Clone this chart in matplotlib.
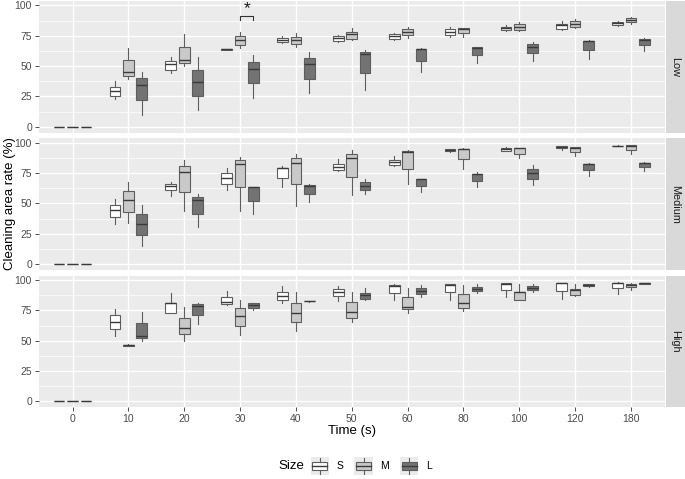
import matplotlib
matplotlib.use("Agg")
import matplotlib.pyplot as plt
from matplotlib.patches import Rectangle
from matplotlib.lines import Line2D
from matplotlib.legend_handler import HandlerBase

plt.rcParams['font.family'] = ['Liberation Sans', 'DejaVu Sans']

times = ['0', '10', '20', '30', '40', '50', '60', '80', '100', '120', '180']
sizes = ['S', 'M', 'L']
levels = ['Low', 'Medium', 'High']

# five-number summaries per time: [whisker low, q1, median, q3, whisker high]
low_S = [[0, 0, 0, 0, 0], [22.6, 25, 29.2, 33, 38], [44, 47.1, 51.5, 54.3, 57.9],
         [63.2, 63.5, 63.7, 63.9, 64.2], [68.9, 70, 71.9, 73.3, 74.4], [70, 71, 73, 74.4, 76],
         [71.9, 72.7, 74.7, 76.3, 77.1], [73.6, 75.8, 78, 80.2, 82.1], [79.3, 79.9, 81.5, 82.4, 83.7],
         [79.9, 80.4, 83.5, 84.8, 87.3], [83.2, 83.7, 85.7, 86.5, 87.3]]
low_M = [[0, 0, 0, 0, 0], [39.7, 41.9, 45.2, 55, 65], [50.1, 52.6, 55.1, 65.8, 76.6],
         [64.7, 67.5, 71.3, 74.9, 78.2], [65.6, 68.3, 71.3, 74.1, 77.4], [71.6, 72.2, 76.6, 78.2, 81.5],
         [73, 75.5, 77.7, 80.4, 82.1], [74.1, 77.4, 80.4, 81.3, 81.5], [79.3, 79.9, 82.1, 84.3, 86.5],
         [81, 82.1, 84.8, 86.8, 88.4], [84.8, 86, 88.2, 89.5, 90.6]]
low_L = [[0, 0, 0, 0, 0], [9.4, 22, 34.7, 40.2, 45.5], [14, 25, 36.6, 46.8, 57.3],
         [23.7, 35.8, 47.7, 53.4, 59.2], [27.5, 39.7, 52.1, 56.7, 61.7], [30.3, 44.4, 60, 61.4, 63.4],
         [45.5, 54.5, 63.9, 64.2, 64.5], [52.9, 59, 65.3, 65.6, 66.1], [54.5, 60.6, 65.8, 68.3, 70],
         [56.2, 63.1, 70.5, 70.8, 71.6], [62.8, 67.5, 71.9, 72.5, 73]]

med_S = [[0, 0, 0, 0, 0], [32.7, 38.7, 44.2, 48.9, 53.3], [56.3, 60.7, 64.6, 66.2, 67.9],
         [60.7, 65.7, 70.9, 75.3, 79.4], [63.7, 70.6, 78.8, 79.4, 81], [76.6, 77.2, 80.2, 82.7, 86.5],
         [80.8, 81.3, 84.1, 85.7, 88.7], [92.6, 93.1, 94, 94.8, 95], [92.9, 93.4, 94.5, 95.3, 96.2],
         [93.7, 95.3, 96.2, 97, 97], [97.3, 97.4, 97.5, 97.6, 97.7]]
med_M = [[0, 0, 0, 0, 0], [34.1, 43.1, 52.5, 60.2, 67.9], [43.4, 59.6, 75.8, 80.8, 85.7],
         [43.4, 63.2, 82.1, 85.7, 88.2], [48.1, 65.7, 83.2, 87.1, 90.4], [56.9, 71.7, 87.1, 90.4, 94],
         [65.7, 78.3, 92, 92.9, 93.7], [78.3, 86.3, 94.5, 94.8, 95.3], [87.1, 90.9, 95.3, 95.9, 95.9],
         [89.3, 92.6, 95.9, 96.4, 96.4], [90.9, 94.2, 97, 97.8, 97.8]]
med_L = [[0, 0, 0, 0, 0], [14.8, 23.6, 32.7, 40.9, 48.9], [30.2, 40.9, 52.5, 54.9, 57.4],
         [40.9, 51.6, 63.2, 63.5, 63.7], [51.4, 57.7, 64.6, 65.1, 65.7], [57.7, 60.7, 64.6, 67.3, 70],
         [59.1, 64.3, 69.8, 70, 70.3], [63.5, 68.1, 73.9, 74.5, 75.5], [65.1, 70.3, 75.3, 78.6, 81.6],
         [72.8, 77.2, 82.1, 82.4, 83], [76.6, 79.9, 83, 83.5, 83.8]]

high_S = [[0, 0, 0, 0, 0], [53.7, 59.5, 65.8, 70.8, 76], [72.5, 72.7, 80.7, 81.3, 89.3],
          [79.1, 80.2, 81.5, 85.7, 90.9], [80.7, 83.2, 86.8, 90.4, 94.8], [82.4, 86.5, 90.1, 92.8, 95.3],
          [83.7, 89.5, 95.3, 95.9, 96.4], [83.2, 89.8, 96.1, 96.4, 97], [86, 91.7, 97, 97.2, 97.5],
          [84.6, 90.9, 97.2, 97.5, 97.8], [88.4, 93.1, 97.5, 97.8, 98.1]]
high_M = [[0, 0, 0, 0, 0], [45.5, 46, 46.2, 46.5, 47], [50.1, 55.4, 60.6, 69.1, 78],
          [54.8, 62.3, 70.2, 76.6, 83.2], [57.6, 65, 72.7, 81.3, 89.8], [65, 68.9, 73.3, 82.1, 90.4],
          [73, 75.8, 78, 85.7, 93.1], [74.4, 77.1, 80.7, 88.2, 95.9], [83.5, 83.5, 89.8, 90.4, 97],
          [87.1, 87.6, 92, 92.6, 96.7], [91.7, 93.9, 96.1, 97, 97.2]]
high_L = [[0, 0, 0, 0, 0], [50.1, 52.3, 53.5, 64.5, 73.8], [63.6, 70.8, 78.2, 79.9, 80.7],
          [75.5, 77.1, 79.6, 80.7, 81.3], [82.2, 82.3, 82.4, 82.5, 82.6], [83.7, 84.3, 87.6, 89.3, 93.4],
          [86, 88.2, 90.6, 93.1, 95.9], [89, 90.6, 92.6, 94.5, 96.4], [90.4, 91.7, 93.7, 95.3, 96.7],
          [94.5, 94.8, 95.9, 96.4, 97], [96.4, 96.7, 97.2, 97.5, 97.8]]

data = {'Low': [low_S, low_M, low_L],
        'Medium': [med_S, med_M, med_L],
        'High': [high_S, high_M, high_L]}

# significance mark in the Low panel
sig_time = '30'
sig_pair = ('M', 'L')
sig_y = 91.5

fills = {'S': '#FFFFFF', 'M': '#C9C9C9', 'L': '#737373'}
edge = '#5E5E5E'
offsets = {'S': -0.24, 'M': 0.0, 'L': 0.24}
box_w = 0.19

W, H = 685, 479
fig = plt.figure(figsize=(W / 100, H / 100), dpi=100)

left, right = 39, 664.5
panel_top = [1, 138.3, 275.6]
panel_h = 131.8

axes = []
for i, lev in enumerate(levels):
    top = panel_top[i]
    ax = fig.add_axes([left / W, 1 - (top + panel_h) / H, (right - left) / W, panel_h / H])
    ax.set_facecolor('#EBEBEB')
    for s in ax.spines.values():
        s.set_visible(False)
    ax.set_xlim(0.4, len(times) + 0.6)
    ax.set_ylim(-4.9, 103.6)
    ax.set_yticks([0, 25, 50, 75, 100])
    ax.set_yticks([12.5, 37.5, 62.5, 87.5], minor=True)
    ax.set_xticks(range(1, len(times) + 1))
    ax.grid(True, which='major', color='white', lw=1.0)
    ax.grid(True, which='minor', axis='y', color='white', lw=0.5)
    ax.set_axisbelow(True)
    ax.tick_params(axis='y', which='major', labelsize=7.5, labelcolor='#4D4D4D', color='#333333',
                   length=3, width=0.6, pad=2)
    ax.tick_params(axis='y', which='minor', length=0)
    if i == 2:
        ax.set_xticklabels(times)
        ax.tick_params(axis='x', labelsize=7.5, labelcolor='#4D4D4D', color='#333333',
                       length=3, width=0.6, pad=2)
    else:
        ax.tick_params(axis='x', length=0, labelbottom=False)

    for size, stats_list in zip(sizes, data[lev]):
        stats = [dict(whislo=v[0], q1=v[1], med=v[2], q3=v[3], whishi=v[4]) for v in stats_list]
        pos = [k + 1 + offsets[size] for k in range(len(times))]
        ax.bxp(stats, positions=pos, widths=box_w, patch_artist=True, showfliers=False,
               showcaps=False, manage_ticks=False,
               boxprops=dict(facecolor=fills[size], edgecolor=edge, lw=0.8),
               medianprops=dict(color='#3A3A3A', lw=1.0),
               whiskerprops=dict(color=edge, lw=0.8))

    # strip
    sax = fig.add_axes([(right + 1) / W, 1 - (top + panel_h) / H, 19 / W, panel_h / H])
    sax.set_facecolor('#D9D9D9')
    sax.set_xticks([])
    sax.set_yticks([])
    for s in sax.spines.values():
        s.set_visible(False)
    sax.text(0.5, 0.5, lev, rotation=-90, ha='center', va='center', fontsize=7.8,
             color='#1A1A1A', transform=sax.transAxes)
    axes.append(ax)

# significance bracket
ax0 = axes[0]
xc = times.index(sig_time) + 1
xa = xc + offsets[sig_pair[0]]
xb = xc + offsets[sig_pair[1]]
ax0.plot([xa, xa, xb, xb], [sig_y - 3.5, sig_y, sig_y, sig_y - 3.5], color='#333333', lw=0.8)
ax0.text((xa + xb) / 2, sig_y + 5.5, '*', ha='center', va='center', fontsize=12.5,
         color='#1A1A1A')

fig.text((left + right) / 2 / W, 1 - 431 / H, 'Time (s)', ha='center', va='center', fontsize=9.5)
fig.text(10 / W, 1 - 204 / H, 'Cleaning area rate (%)', rotation=90, ha='center', va='center',
         fontsize=9.5)


class BoxKey(HandlerBase):
    def create_artists(self, legend, orig_handle, xdescent, ydescent, width, height, fontsize, trans):
        x0, y0 = -xdescent, -ydescent
        bg = Rectangle((x0, y0), width, height, fc='#EBEBEB', ec='none', transform=trans)
        bx = Rectangle((x0 + width * 0.1, y0 + height * 0.28), width * 0.8, height * 0.44,
                       fc=orig_handle.get_facecolor(), ec=edge, lw=0.8, transform=trans)
        md = Line2D([x0 + width * 0.1, x0 + width * 0.9], [y0 + height * 0.5] * 2,
                    color='#3A3A3A', lw=1.0, transform=trans)
        wt = Line2D([x0 + width / 2] * 2, [y0 + height * 0.72, y0 + height * 0.92],
                    color=edge, lw=0.8, transform=trans)
        wb = Line2D([x0 + width / 2] * 2, [y0 + height * 0.08, y0 + height * 0.28],
                    color=edge, lw=0.8, transform=trans)
        return [bg, bx, md, wt, wb]


handles = [Rectangle((0, 0), 1, 1, fc=fills[s]) for s in sizes]
fig.legend(handles, sizes, handler_map={Rectangle: BoxKey()}, loc='center',
           bbox_to_anchor=(371 / W, 1 - 466 / H), ncol=3, frameon=False, fontsize=7.5,
           handlelength=1.75, handleheight=2.3, handletextpad=0.7, columnspacing=1.1,
           borderpad=0, borderaxespad=0)
fig.text(304 / W, 1 - 466 / H, 'Size', ha='right', va='center', fontsize=9.5)

fig.savefig('out.png', dpi=100)
